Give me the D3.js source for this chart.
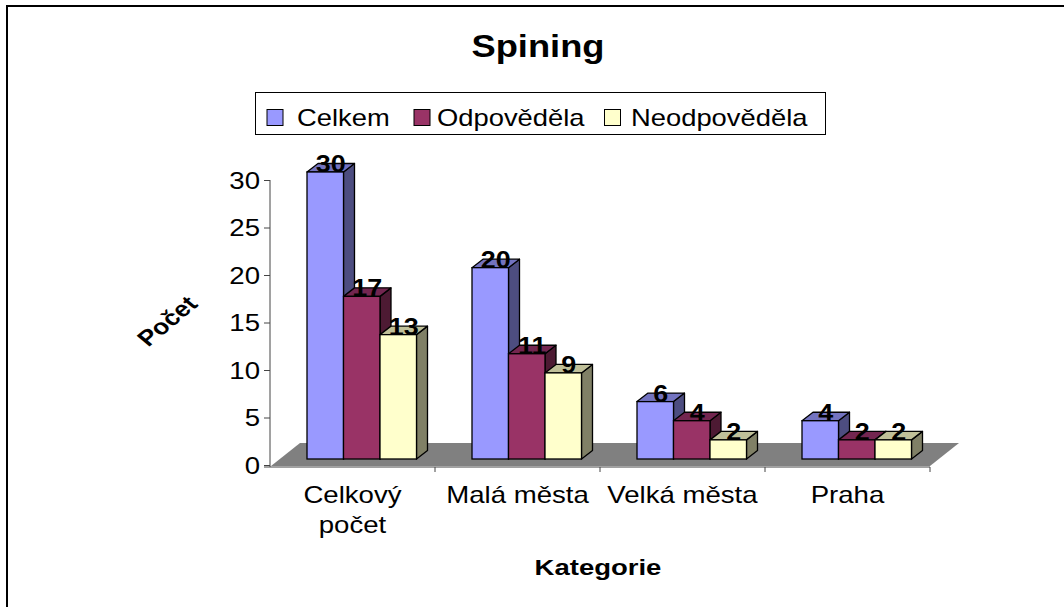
<!DOCTYPE html>
<html>
<head>
<meta charset="utf-8">
<script src="https://cdn.jsdelivr.net/npm/d3@7"></script>
<style>
  html, body { margin: 0; padding: 0; background: #fff; }
  svg { display: block; }
  text { font-family: "Liberation Sans", Arial, sans-serif; fill: #000; }
</style>
</head>
<body>
<svg id="chart" width="1064" height="607"></svg>
<script>
const title = "Spining";
const categories = ["Celkový počet", "Malá města", "Velká města", "Praha"];
const categoryLabels = [["Celkový", "počet"], ["Malá města"], ["Velká města"], ["Praha"]];
const seriesNames = ["Celkem", "Odpověděla", "Neodpověděla"];
const celkem = [30, 20, 6, 4];
const odpovedela = [17, 11, 4, 2];
const neodpovedela = [13, 9, 2, 2];
const yTicks = [0, 5, 10, 15, 20, 25, 30];
const xTitle = "Kategorie";
const yTitle = "Počet";

const seriesValues = [celkem, odpovedela, neodpovedela];
const colors = {
  front: ["#9999FF", "#993366", "#FFFFCC"],
  top:   ["#7373C0", "#732650", "#C0C099"],
  side:  ["#4D4D80", "#4D1A33", "#808066"]
};
const SX = 1.2; // horizontal stretch of the original rendering

const svg = d3.select("#chart");

// border (left and top visible)
svg.append("path").attr("d", "M7,607 L7,6 L1064,6")
  .attr("fill", "none").attr("stroke", "#000").attr("stroke-width", 2);

// scales
const x = d3.scaleBand().domain(categories).range([270, 930]).padding(0);
const inner = d3.scaleBand().domain(seriesNames).range([37, 146.5]).padding(0);
const yAxisScale = d3.scaleLinear().domain([0, 30]).range([465, 180]);
const yBar = d3.scaleLinear().domain([0, 30]).range([459, 172]);
const dX = 11, dY = -8.5; // bar depth
const floorDX = 29, floorDY = -23;

// floor
const fl = 271, fr = 930, fy = 466;
svg.append("polygon")
  .attr("points", [[fl, fy], [fr, fy], [fr + floorDX, fy + floorDY], [fl + floorDX, fy + floorDY]].map(p => p.join(",")).join(" "))
  .attr("fill", "#808080");

// y axis
const yAxis = d3.axisLeft(yAxisScale).tickValues(yTicks).tickSize(6).tickPadding(0).tickFormat(d3.format("d"));
const yg = svg.append("g").attr("transform", "translate(270,0)").call(yAxis);
yg.select(".domain").attr("stroke", "#444").attr("d", "M0,180V467");
yg.selectAll(".tick line").attr("stroke", "#444");
yg.selectAll(".tick text").remove();
yg.selectAll(".tick").append("text")
  .attr("transform", "translate(-10,8) scale(" + SX + ",1)")
  .attr("text-anchor", "end")
  .style("font-size", "23px")
  .text(d => d);

// x axis line + ticks at category boundaries
const xAxis = d3.axisBottom(x).tickSize(0).tickFormat("");
const xg = svg.append("g").attr("transform", "translate(0,467)").call(xAxis);
xg.select(".domain").attr("stroke", "#444").attr("d", "M264,0H930");
xg.selectAll(".tick").remove();
const bounds = categories.map(c => x(c)).concat([x(categories[categories.length - 1]) + x.bandwidth()]);
xg.selectAll("line.bt").data(bounds.slice(1)).enter().append("line")
  .attr("x1", d => d).attr("x2", d => d).attr("y1", 0).attr("y2", 5)
  .attr("stroke", "#444");

// category labels
categories.forEach((c, i) => {
  const cx = x(c) + x.bandwidth() / 2;
  categoryLabels[i].forEach((line, j) => {
    svg.append("text")
      .attr("transform", `translate(${cx},${503 + j * 30}) scale(${SX},1)`)
      .attr("text-anchor", "middle")
      .style("font-size", "23px")
      .text(line);
  });
});

// bars
const barsG = svg.append("g");
const labels = [];
categories.forEach((c, ci) => {
  seriesNames.forEach((s, si) => {
    const v = seriesValues[si][ci];
    const x0 = x(c) + inner(s);
    const w = inner.bandwidth();
    const yt = yBar(v), yb = yBar(0);
    const pts = a => a.map(p => p.join(",")).join(" ");
    barsG.append("polygon")
      .attr("points", pts([[x0 + w, yt], [x0 + w + dX, yt + dY], [x0 + w + dX, yb + dY], [x0 + w, yb]]))
      .attr("fill", colors.side[si]).attr("stroke", "#000").attr("stroke-width", 1.3).attr("stroke-linejoin", "round");
    barsG.append("polygon")
      .attr("points", pts([[x0, yt], [x0 + dX, yt + dY], [x0 + w + dX, yt + dY], [x0 + w, yt]]))
      .attr("fill", colors.top[si]).attr("stroke", "#000").attr("stroke-width", 1.3).attr("stroke-linejoin", "round");
    barsG.append("rect")
      .attr("x", x0).attr("y", yt).attr("width", w).attr("height", yb - yt)
      .attr("fill", colors.front[si]).attr("stroke", "#000").attr("stroke-width", 1.3);
    labels.push({ x: x0 + w / 2 + dX / 2, y: yt, v });
  });
});
svg.append("g").selectAll("text").data(labels).enter().append("text")
  .attr("transform", d => `translate(${d.x},${d.y}) scale(1.17,1)`)
  .attr("text-anchor", "middle")
  .style("font-size", "23px").style("font-weight", "bold")
  .text(d => d.v);

// title
svg.append("text")
  .attr("transform", `translate(538,57) scale(1.19,1)`)
  .attr("text-anchor", "middle")
  .style("font-size", "30.5px").style("font-weight", "bold")
  .text(title);

// legend
svg.append("rect").attr("x", 255.5).attr("y", 92.5).attr("width", 570).attr("height", 42)
  .attr("fill", "#fff").attr("stroke", "#000").attr("stroke-width", 1);
const legendSquares = [267, 414, 604.5];
const legendTexts = [297, 437, 631];
seriesNames.forEach((s, i) => {
  svg.append("rect").attr("x", legendSquares[i]).attr("y", 109.5).attr("width", 16).attr("height", 16)
    .attr("fill", colors.front[i]).attr("stroke", "#000").attr("stroke-width", 1);
  svg.append("text")
    .attr("transform", `translate(${legendTexts[i]},126) scale(1.19,1)`)
    .style("font-size", "23px")
    .text(s);
});

// axis titles
svg.append("text")
  .attr("transform", `translate(598,575) scale(1.25,1)`)
  .attr("text-anchor", "middle")
  .style("font-size", "22px").style("font-weight", "bold")
  .text(xTitle);
svg.append("text")
  .attr("transform", `translate(167,321) scale(${SX},1) rotate(-45)`)
  .attr("text-anchor", "middle").attr("dy", "0.35em")
  .style("font-size", "22px").style("font-weight", "bold")
  .text(yTitle);
</script>
</body>
</html>
